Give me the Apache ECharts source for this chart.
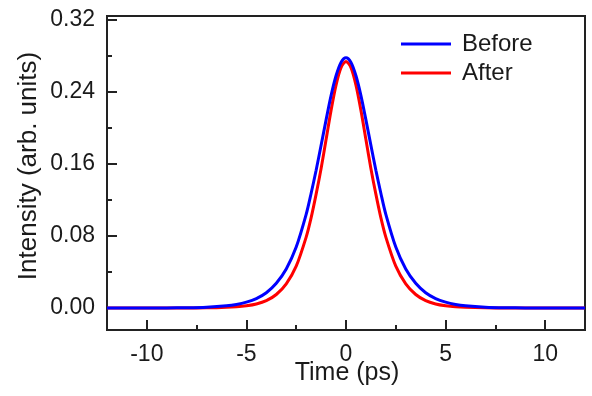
<!DOCTYPE html>
<html>
<head>
<meta charset="utf-8">
<script src="https://cdn.jsdelivr.net/npm/echarts@6/dist/echarts.min.js"></script>
<style>html,body{margin:0;padding:0;background:#fff}#c{width:592px;height:396px}</style>
</head>
<body>
<div id="c"></div>
<script>
// Time axis (ps)
var times = [-12,-10,-9,-8,-7,-6,-5.5,-5,-4.5,-4,-3.5,-3,-2.5,-2,-1.75,-1.5,-1.25,-1,-0.75,-0.5,-0.25,0,
             0.25,0.5,0.75,1,1.25,1.5,1.75,2,2.5,3,3.5,4,4.5,5,5.5,6,7,8,9,10,12];
// Intensity (arb. units)
var before = [0,0,0.0001,0.0003,0.0009,0.0024,0.0039,0.0065,0.0105,0.0170,0.0275,0.0434,0.0677,0.104,0.1275,0.153,0.1808,0.209,0.236,0.258,0.2729,0.278,
              0.2729,0.258,0.236,0.209,0.1808,0.153,0.1275,0.104,0.0677,0.0434,0.0275,0.0170,0.0105,0.0065,0.0039,0.0024,0.0009,0.0003,0.0001,0,0];
var after = [0,0,0,0.0001,0.0002,0.0007,0.0013,0.0025,0.0045,0.0082,0.0150,0.0269,0.0465,0.0788,0.1004,0.1265,0.1551,0.1872,0.2196,0.2477,0.2671,0.274,
             0.2671,0.2477,0.2196,0.1872,0.1551,0.1265,0.1004,0.0788,0.0465,0.0269,0.0150,0.0082,0.0045,0.0025,0.0013,0.0007,0.0002,0.0001,0,0,0];
// tick labels
var xTickMin = -10, xTickMax = 10, xTickStep = 5;
var yTickMin = 0, yTickMax = 0.32, yTickStep = 0.08;
var seriesNames = ['Before','After'];
var xTitle = 'Time (ps)';
var yTitle = 'Intensity (arb. units)';

function pairs(v){ return times.map(function(t,i){ return [t, v[i]]; }); }

var font = 'Arial, "Liberation Sans", sans-serif';
var ink = '#1a1a1a';
var axisCol = '#222';
// plot frame geometry
var L = 107, R = 585, T = 16, B = 330, W = 592, H = 396;
var xMin = -12, xMax = 12;
var yPx = 900;                      // px per unit
var yZero = 308;                    // pixel of 0.00
var yMin = -(B - yZero) / yPx, yMax = (yZero - T) / yPx;
var xPx = (R - L) / (xMax - xMin);
var xTL = L + (xTickMin - xMin) * xPx, xTR = L + (xTickMax - xMin) * xPx;
var yTT = yZero - yTickMax * yPx;

var tickLine = {color:axisCol,width:2};
var chart = echarts.init(document.getElementById('c'), null, {renderer:'canvas'});
chart.setOption({
  animation:false,
  backgroundColor:'#fff',
  grid:[
    {left:L,right:W-R,top:T,bottom:H-B,show:true,borderColor:axisCol,borderWidth:2,backgroundColor:'transparent'},
    {left:L,right:W-R,top:yTT,bottom:H-yZero,show:false},
    {left:xTL,right:W-xTR,top:T,bottom:H-B,show:false}
  ],
  legend:{
    data:seriesNames, orient:'vertical', left:401, top:32, padding:0,
    icon:'rect', itemWidth:50, itemHeight:3, itemGap:5,
    textStyle:{fontFamily:font,fontSize:24,color:ink,lineHeight:24,padding:[0,0,0,6]}
  },
  graphic:[
    {type:'text', x:29, y:166, rotation:Math.PI/2, z:10,
     style:{text:yTitle, font:'26px '+font, fill:ink, textAlign:'center', textVerticalAlign:'middle'}},
    {type:'text', x:347, y:373, z:10,
     style:{text:xTitle, font:'25px '+font, fill:ink, textAlign:'center', textVerticalAlign:'middle'}}
  ],
  xAxis:[{
    gridIndex:0, type:'value', min:xMin, max:xMax, position:'bottom',
    axisLine:{show:true,onZero:false,lineStyle:tickLine},
    axisTick:{show:false}, axisLabel:{show:false}, splitLine:{show:false}
  },{
    gridIndex:1, type:'value', show:false, min:0, max:1
  },{
    gridIndex:2, type:'value', min:xTickMin, max:xTickMax, interval:xTickStep, position:'bottom',
    axisLine:{show:false,onZero:false},
    axisTick:{show:true,inside:true,length:10,lineStyle:tickLine},
    minorTick:{show:true,splitNumber:2,length:5,lineStyle:tickLine},
    axisLabel:{show:true,margin:13,fontFamily:font,fontSize:23,color:ink,showMinLabel:true,showMaxLabel:true},
    splitLine:{show:false}, minorSplitLine:{show:false}
  }],
  yAxis:[{
    gridIndex:0, type:'value', min:yMin, max:yMax, position:'left',
    axisLine:{show:true,onZero:false,lineStyle:tickLine},
    axisTick:{show:false}, axisLabel:{show:false}, splitLine:{show:false}
  },{
    gridIndex:1, type:'value', min:yTickMin, max:yTickMax, interval:yTickStep, position:'left',
    axisLine:{show:false,onZero:false},
    axisTick:{show:true,inside:true,length:10,lineStyle:tickLine},
    minorTick:{show:true,splitNumber:2,length:5,lineStyle:tickLine},
    axisLabel:{show:true,margin:12,fontFamily:font,fontSize:23,color:ink,showMinLabel:true,showMaxLabel:true,
      formatter:function(v){return v.toFixed(2);}},
    splitLine:{show:false}, minorSplitLine:{show:false}
  },{
    gridIndex:2, type:'value', show:false, min:0, max:1
  }],
  series:[
    {name:'After', type:'line', xAxisIndex:0, yAxisIndex:0, data:pairs(after), smooth:0.3, showSymbol:false, symbol:'none',
     lineStyle:{color:'#ff0000',width:3}, itemStyle:{color:'#ff0000'}, z:2},
    {name:'Before', type:'line', xAxisIndex:0, yAxisIndex:0, data:pairs(before), smooth:0.3, showSymbol:false, symbol:'none',
     lineStyle:{color:'#0000ff',width:3}, itemStyle:{color:'#0000ff'}, z:3}
  ]
});
</script>
</body>
</html>
